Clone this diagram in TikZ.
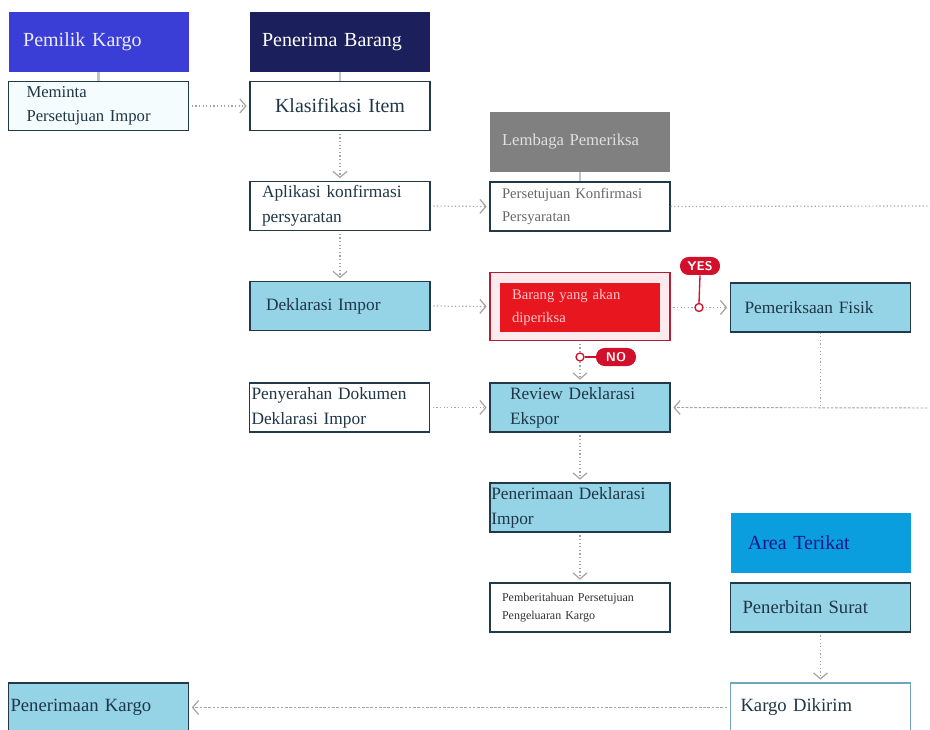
\documentclass[tikz,border=0pt]{standalone}
\usepackage{fontspec}
\setmainfont{Liberation Serif}[WordSpace=1.8]
\usepackage{tikz}
\usetikzlibrary{arrows.meta}

\definecolor{pkblue}{HTML}{3B3ED6}
\definecolor{pbnavy}{HTML}{1B1F5C}
\definecolor{lpgrey}{HTML}{808080}
\definecolor{atcyan}{HTML}{0A9EDF}
\definecolor{boxblue}{HTML}{95D3E6}
\definecolor{boxline}{HTML}{22394A}
\definecolor{txtdark}{HTML}{1F3647}
\definecolor{flowgrey}{HTML}{A3A3A3}
\definecolor{redfill}{HTML}{E8161F}
\definecolor{redline}{HTML}{B21F35}
\definecolor{pinkbg}{HTML}{FCEAEE}
\definecolor{badgered}{HTML}{D3102B}
\definecolor{stemgrey}{HTML}{B8C6D2}

\begin{document}
\begin{tikzpicture}[x=0.75pt, y=-0.75pt,
    hdr/.style={minimum height=45pt, text width=117pt, inner xsep=9pt, inner ysep=0pt, align=left, font=\fontsize{15}{18}\selectfont},
    bx/.style={draw=boxline, line width=1pt, minimum height=36.75pt, text width=117pt, inner xsep=9pt, inner ysep=0pt, align=left, text=txtdark, font=\fontsize{13}{18.5}\selectfont},
    blue/.style={bx, fill=boxblue},
    flow/.style={draw=flowgrey, line width=0.9pt, dash pattern=on 0.9pt off 1.8pt, -{Straight Barb[length=4.5pt, width=10.5pt, line width=0.9pt]}, shorten <=2pt, shorten >=2pt},
    plain/.style={draw=flowgrey, line width=0.9pt, dash pattern=on 0.9pt off 1.8pt},
    badge/.style={fill=badgered, rounded corners=6.5pt, text=white, inner sep=0pt, minimum width=30pt, minimum height=13.5pt, font=\sffamily\bfseries\fontsize{9.5}{10}\selectfont},
    knob/.style={circle, draw=badgered, fill=white, line width=1pt, inner sep=0pt, minimum size=6pt}
  ]
  \useasboundingbox (0,0) rectangle (930,730);
  \clip (0,0) rectangle (930,730);

  % column heads
  \node[hdr, fill=pkblue, text=blue!8!white, text width=113pt, inner xsep=11pt] (pk) at (98.5,42) {Pemilik Kargo};
  \node[hdr, fill=pbnavy, text=white] (pb) at (340,42) {Penerima Barang};
  \node[hdr, fill=lpgrey, text=white!88!black, font=\fontsize{12.5}{15}\selectfont] (lp) at (580,142) {Lembaga Pemeriksa};
  \node[hdr, fill=atcyan, text=pbnavy!70!blue, text width=109pt, inner xsep=13pt] (at) at (820.5,542.5) {Area Terikat};

  % boxes
  \node[bx, fill=cyan!4, text width=108pt, inner xsep=13.5pt, font=\fontsize{12.5}{18}\selectfont] (minta) at (98.5,106) {Meminta\\Persetujuan Impor};
  \node[bx, align=center, font=\fontsize{15}{18}\selectfont] (klas) at (340,106) {Klasifikasi Item};
  \node[bx] (apl) at (340,206) {Aplikasi konfirmasi\\persyaratan};
  \node[bx, text=black!60, font=\fontsize{11}{17}\selectfont] (setuju) at (580,206.5) {Persetujuan Konfirmasi\\Persyaratan};
  \node[blue, text width=111pt, inner xsep=12pt] (dekl) at (340,306) {Deklarasi Impor};
  \node[draw=redline, fill=pinkbg, line width=1pt, minimum width=135pt, minimum height=51pt, inner sep=0pt] (brg) at (580,306.5) {};
  \node[fill=redfill, minimum height=36.75pt, text width=102pt, inner xsep=9pt, inner ysep=0pt, align=left, text=pinkbg!85!red, font=\fontsize{11}{17}\selectfont] (periksa) at (580,307.5) {Barang yang akan\\diperiksa};
  \node[blue, text width=114pt, inner xsep=10.5pt] (fisik) at (820.5,307.5) {Pemeriksaan Fisik};
  \node[bx, fill=white, text width=132pt, inner xsep=1.5pt] (serah) at (339.5,407.5) {Penyerahan Dokumen\\Deklarasi Impor};
  \node[blue, text width=105pt, inner xsep=15pt] (review) at (580,407.5) {Review Deklarasi\\Ekspor};
  \node[blue, text width=133pt, inner xsep=1pt] (terima) at (580,507.5) {Penerimaan Deklarasi\\Impor};
  \node[bx, fill=white, text=black!80, text width=117pt, inner xsep=9pt, font=\fontsize{9}{14}\selectfont] (izin) at (580,607.5) {Pemberitahuan Persetujuan\\Pengeluaran Kargo};
  \node[blue, text width=117pt, inner xsep=9pt, font=\fontsize{14}{18}\selectfont] (surat) at (820.5,607.5) {Penerbitan Surat};
  \node[bx, draw=boxblue!70!boxline, fill=white, text width=120pt, inner xsep=7.5pt, font=\fontsize{14}{18}\selectfont] (kirim) at (820.5,707.5) {Kargo Dikirim};
  \node[blue, text width=132pt, inner xsep=1.5pt, font=\fontsize{14}{18}\selectfont] (pkargo) at (98.5,707.5) {Penerimaan Kargo};

  % stems below the heads
  \foreach \h/\b in {pk/minta, pb/klas, lp/setuju}
    \draw[stemgrey, line width=1.6pt] (\h.south) -- (\b.north);

  % flow
  \foreach \a/\b in {klas/apl, apl/dekl, review/terima, terima/izin, surat/kirim}
    \draw[flow] (\a.south) -- (\b.north);
  \foreach \a/\b in {minta/klas, apl/setuju, dekl/brg, serah/review}
    \draw[flow] (\a.east) -- (\b.west);
  \coordinate (rim1) at (930,206);
  \coordinate (rim2) at (930,408);
  \draw[plain] (setuju.east) -- (rim1);
  \draw[plain] (fisik.south) -- (fisik.south |- rim2);
  \draw[flow, dash pattern=on 2pt off 1.2pt, line width=0.7pt] (rim2) -- (review.east);
  \draw[flow, dash pattern=on 2pt off 1.2pt, line width=0.7pt] (kirim.west) -- (pkargo.east);

  % yes / no
  \draw[flow] (brg.east |- fisik.west) -- (fisik.west);
  \node[knob] (yk) at (699,307.5) {};
  \node[badge] (yes) at (700,266) {YES};
  \draw[badgered, line width=1pt] (yk.north) -- (yes.south);
  \draw[flow] (brg.south) -- (review.north);
  \node[knob] (nk) at (580,357) {};
  \node[badge] (no) at (616,357) {NO};
  \draw[badgered, line width=1pt] (nk.east) -- (no.west);
\end{tikzpicture}
\end{document}
